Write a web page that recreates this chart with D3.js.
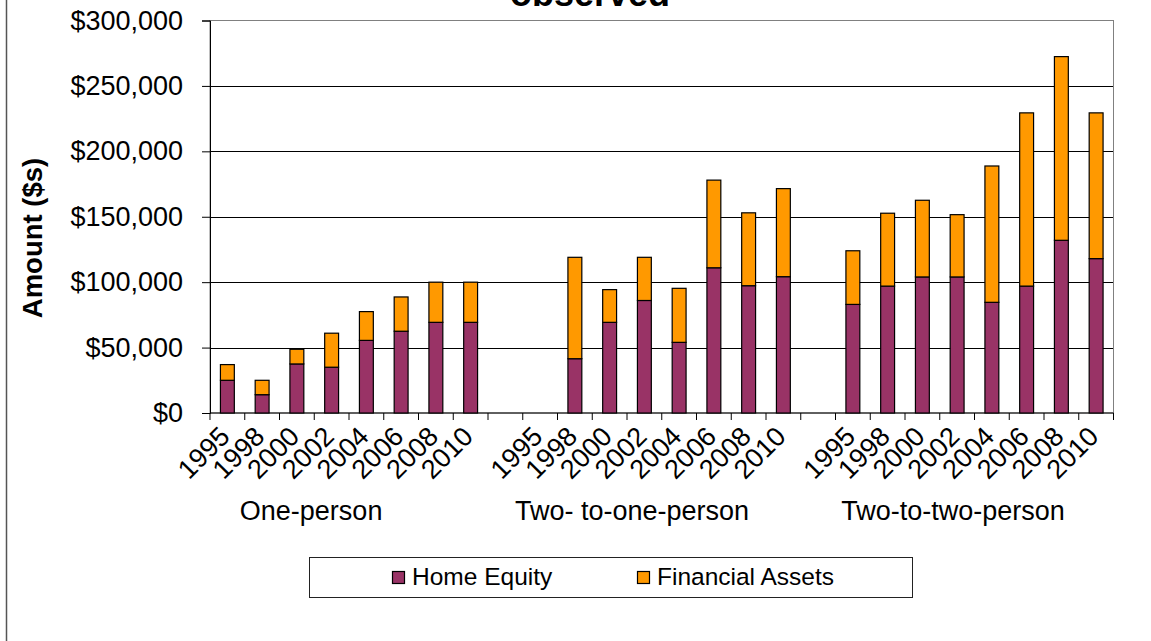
<html>
<head>
  <title>Home equity and financial assets</title>
  <script src="https://d3js.org/d3.v7.min.js"></script>
  <style>
  body { margin: 0; background: #fff; }
  svg { display: block; font-family: "Liberation Sans", Arial, Helvetica, sans-serif; }
  .grid line { stroke: #000; stroke-width: 1; }
  .axis text { fill: #000; }
  </style>
</head>
<body>
  <div id="chart"></div>
  <script>

    // values, in dollars
    var groups = ["One-person", "Two- to-one-person", "Two-to-two-person"];
    var years = ["1995", "1998", "2000", "2002", "2004", "2006", "2008", "2010"];

    var homeEquity = [
      [25000, 14000, 37500, 35000, 55500, 62500, 69300, 69300],
      [null, 41500, 69300, 86000, 54000, 111000, 97300, 104200],
      [83000, 97000, 104000, 104000, 84600, 97000, 132000, 118000]
    ];
    var financialAssets = [
      [12000, 11000, 11200, 26000, 22000, 26200, 30700, 30700],
      [null, 77500, 25000, 33000, 41300, 67000, 55700, 67300],
      [41000, 55700, 58600, 47600, 104200, 132400, 140400, 111400]
    ];

    var yTicks = [0, 50000, 100000, 150000, 200000, 250000, 300000];
    var seriesNames = ["Home Equity", "Financial Assets"];
    var seriesColors = ["#993366", "#FF9900"];

    var W = 1151, H = 641;
    var plot = {left: 210, right: 1113.5, top: 20.5, bottom: 413};

    var svg = d3.select("#chart").append("svg")
      .attr("width", W).attr("height", H);

    // flat list of slots: 8 years per group with one empty slot between groups
    var slots = [];
    groups.forEach(function(g, gi){
      years.forEach(function(yr, yi){
        slots.push({group: gi, year: yr, home: homeEquity[gi][yi], fin: financialAssets[gi][yi], key: gi + "-" + yr});
      });
      if (gi < groups.length - 1) slots.push({group: gi, year: null, key: "gap" + gi});
    });

    var x = d3.scaleBand().domain(slots.map(function(d){ return d.key; }))
      .range([plot.left, plot.right]).padding(0);
    var y = d3.scaleLinear().domain([0, 300000]).range([plot.bottom, plot.top]);

    // chart area edge on the left
    svg.append("line").attr("x1", 6.5).attr("x2", 6.5).attr("y1", 0).attr("y2", H)
      .attr("stroke", "#555").attr("stroke-width", 1.5);

    // gridlines
    svg.append("g").attr("class", "grid").selectAll("line")
      .data(yTicks.slice(1, -1)).enter().append("line")
      .attr("x1", plot.left).attr("x2", plot.right)
      .attr("y1", function(d){ return Math.round(y(d)) + 0.5; })
      .attr("y2", function(d){ return Math.round(y(d)) + 0.5; });

    // plot border
    svg.append("rect").attr("x", plot.left).attr("y", plot.top)
      .attr("width", plot.right - plot.left).attr("height", plot.bottom - plot.top)
      .attr("fill", "none").attr("stroke", "#808080").attr("stroke-width", 1);

    // y axis
    var yAxis = d3.axisLeft(y).tickValues(yTicks).tickSize(8).tickPadding(19)
      .tickFormat(function(d){ return "$" + d3.format(",")(d); });
    var gy = svg.append("g").attr("class", "axis").attr("transform", "translate(" + plot.left + ",0)").call(yAxis);
    gy.select(".domain").attr("stroke", "#000");
    gy.selectAll(".tick line").attr("stroke", "#000");
    gy.selectAll("text").style("font-size", "27px").attr("font-family", null);

    // x axis line + ticks at slot boundaries
    svg.append("line").attr("x1", plot.left).attr("x2", plot.right)
      .attr("y1", plot.bottom).attr("y2", plot.bottom).attr("stroke", "#000");
    var bounds = slots.map(function(d){ return x(d.key); }).concat([plot.right]);
    svg.append("g").selectAll("line").data(bounds).enter().append("line")
      .attr("x1", function(d){ return d; }).attr("x2", function(d){ return d; })
      .attr("y1", plot.bottom).attr("y2", plot.bottom + 7)
      .attr("stroke", "#000");

    // stacked bars
    var bw = x.bandwidth() * 0.4;
    var barSlots = slots.filter(function(d){ return d.year && d.home != null; });
    var bars = svg.append("g");
    bars.selectAll("rect.home").data(barSlots).enter().append("rect")
      .attr("class", "home")
      .attr("x", function(d){ return x(d.key) + (x.bandwidth() - bw) / 2; })
      .attr("width", bw)
      .attr("y", function(d){ return y(d.home); })
      .attr("height", function(d){ return y(0) - y(d.home); })
      .attr("fill", seriesColors[0]).attr("stroke", "#000").attr("stroke-width", 1.2);
    bars.selectAll("rect.fin").data(barSlots).enter().append("rect")
      .attr("class", "fin")
      .attr("x", function(d){ return x(d.key) + (x.bandwidth() - bw) / 2; })
      .attr("width", bw)
      .attr("y", function(d){ return y(d.home + d.fin); })
      .attr("height", function(d){ return y(d.home) - y(d.home + d.fin); })
      .attr("fill", seriesColors[1]).attr("stroke", "#000").attr("stroke-width", 1.2);

    // rotated year labels
    svg.append("g").selectAll("text").data(slots.filter(function(d){ return d.year; }))
      .enter().append("text")
      .attr("transform", function(d){
        return "translate(" + (x(d.key) + x.bandwidth() / 2 + 4) + "," + 438 + ") rotate(-45)";
      })
      .attr("text-anchor", "end")
      .style("font-size", "27px")
      .text(function(d){ return d.year; });

    // group labels, centred a little left of each group's middle (as in the source)
    svg.append("g").selectAll("text").data(groups).enter().append("text")
      .attr("x", function(g, gi){ return plot.left + x.bandwidth() * (gi * 9.235 + 2.91); })
      .attr("y", 520)
      .attr("text-anchor", "middle")
      .style("font-size", "27px")
      .text(function(g){ return g; });

    // axis title
    svg.append("text")
      .attr("transform", "translate(42,238) rotate(-90)")
      .attr("text-anchor", "middle")
      .style("font-size", "27.5px").style("font-weight", "bold")
      .text("Amount ($s)");

    // chart title, mostly off the top edge
    svg.append("text").attr("x", 590).attr("y", 6)
      .attr("text-anchor", "middle")
      .style("font-size", "36px").style("font-weight", "bold")
      .text("observed");

    // legend
    var lg = svg.append("g");
    lg.append("rect").attr("x", 309.5).attr("y", 557.5).attr("width", 603).attr("height", 40)
      .attr("fill", "#fff").attr("stroke", "#222").attr("stroke-width", 1);
    var legendX = [392.5, 637.5];
    seriesNames.forEach(function(name, i){
      lg.append("rect").attr("x", legendX[i]).attr("y", 571.5).attr("width", 12).attr("height", 12)
        .attr("fill", seriesColors[i]).attr("stroke", "#000").attr("stroke-width", 1.2);
      lg.append("text").attr("x", legendX[i] + 19.5).attr("y", 585)
        .style("font-size", "24.5px").text(name);
    });

  </script>
</body>
</html>
